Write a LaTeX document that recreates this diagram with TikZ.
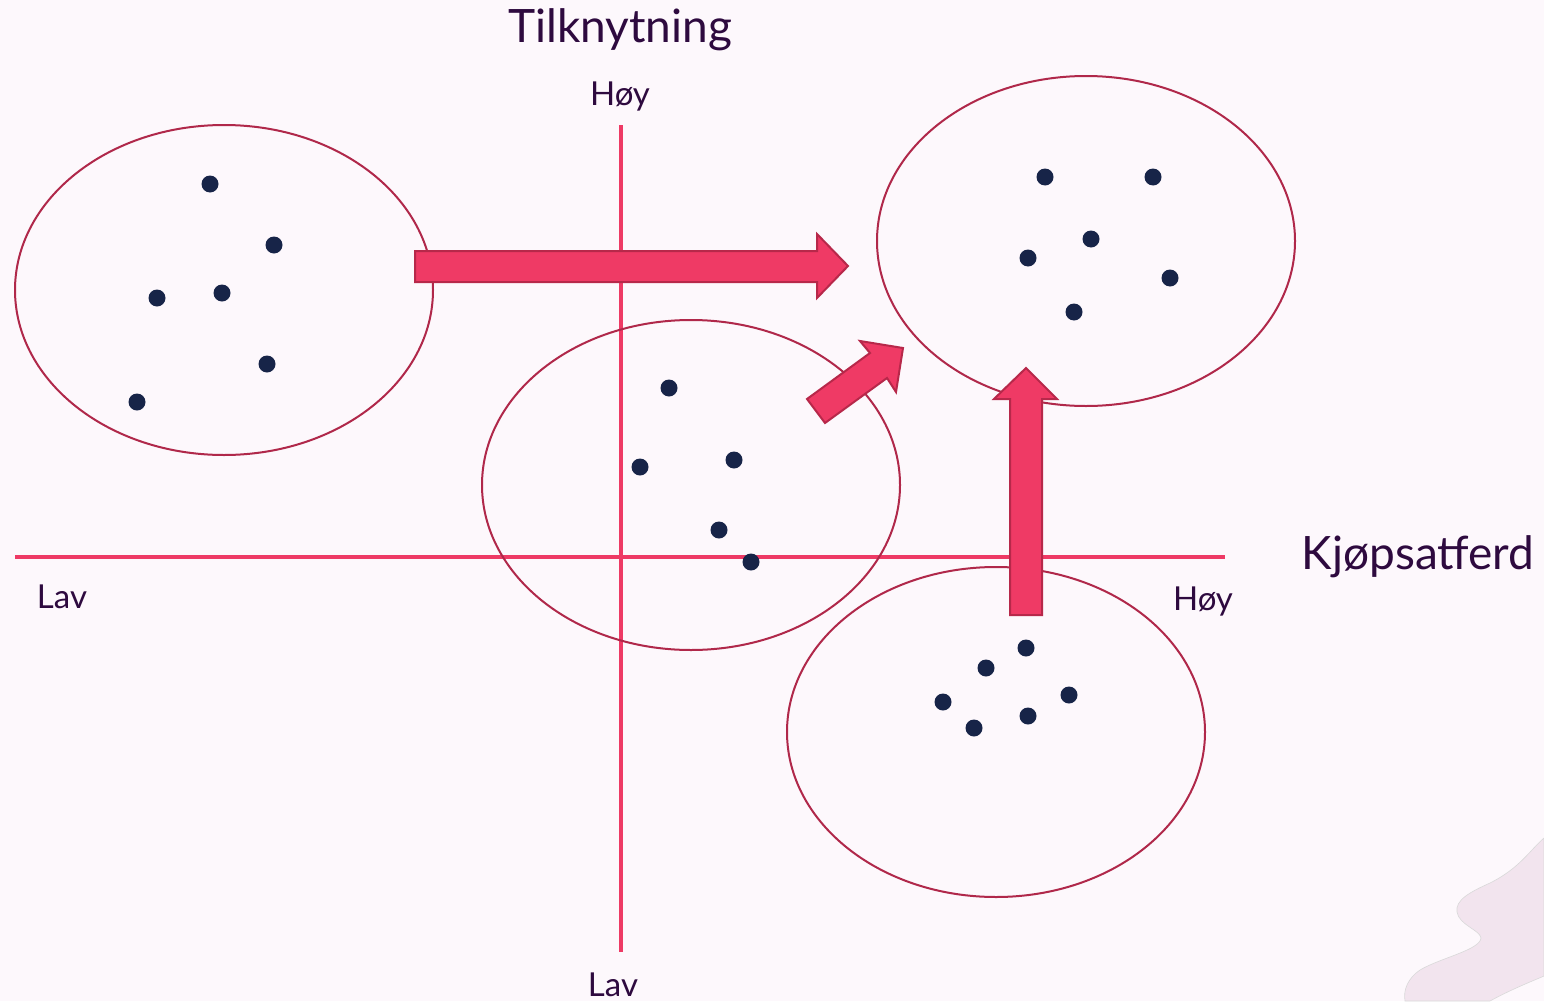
\documentclass[tikz,border=0pt]{standalone}
\usepackage{fontspec}
\setmainfont{Lato}
\definecolor{bg}{HTML}{FDF8FC}
\definecolor{blob}{HTML}{F2E4EE}
\definecolor{axis}{HTML}{EE3A65}
\definecolor{ring}{HTML}{B0284A}
\definecolor{dotc}{HTML}{172448}
\definecolor{arrowfill}{HTML}{EF3A65}
\definecolor{arrowline}{HTML}{B7284A}
\definecolor{ink}{HTML}{2E0A3F}
\begin{document}
\begin{tikzpicture}[x=1pt,y=-1pt,
  axisline/.style={draw=axis,line width=3.2pt},
  cluster/.style={draw=ring,line width=2pt},
  pt/.style={fill=dotc},
  blockarrow/.style={fill=arrowfill,draw=arrowline,line width=2pt,line join=miter},
  title/.style={text=ink,font=\fontsize{46}{54}\selectfont,inner sep=0pt},
  tick/.style={text=ink,font=\fontsize{33}{40}\selectfont,inner sep=0pt}]
  % canvas
  \fill[bg] (0,0) rectangle (1544,1001);
  \useasboundingbox (0,0) rectangle (1544,1001);
  % decorative corner shape
  \fill[blob,draw=black!15,line width=0.6pt]
    (1544,838) .. controls (1530,850) and (1520,868) .. (1490,883)
    .. controls (1470,892) and (1455,900) .. (1457,912)
    .. controls (1459,925) and (1480,930) .. (1481,938)
    .. controls (1480,950) and (1440,958) .. (1420,970)
    .. controls (1408,978) and (1403,990) .. (1405,1001)
    -- (1490,1001) .. controls (1510,990) and (1530,982) .. (1544,976) -- cycle;
  % axes
  \draw[axisline] (15,557) -- (1225,557);
  \draw[axisline] (621,125) -- (621,952);
  % axis labels
  \node[title] (ytitle) at (620,30) {Tilknytning};
  \node[title] (xtitle) at (1418,557) {Kjøpsatferd};
  \node[tick] (yhigh) at (620,97) {Høy};
  \node[tick] (ylow) at (613,985) {Lav};
  \node[tick] (xlow) at (62,597) {Lav};
  \node[tick] (xhigh) at (1203,601) {Høy};
  % clusters
  \draw[cluster] (224,290) ellipse [x radius=209,y radius=165];
  \draw[cluster] (691,485) ellipse [x radius=209,y radius=165];
  \draw[cluster] (1086,241) ellipse [x radius=209,y radius=165];
  \draw[cluster] (996,732) ellipse [x radius=209,y radius=165];
  % members
  \foreach \p in {(210,184),(274,245),(157,298),(222,293),(267,364),(137,402),
                  (669,388),(640,467),(734,460),(719,530),(751,562),
                  (1045,177),(1153,177),(1091,239),(1028,258),(1170,278),(1074,312),
                  (1026,648),(986,668),(943,702),(1069,695),(974,728),(1028,716)}
    \fill[pt] \p circle (8.5);
  % movement arrows
  \draw[blockarrow] (415,251) -- (817,251) -- (817,234) -- (848,266) -- (817,298)
    -- (817,282) -- (415,282) -- cycle;
  \draw[blockarrow] (1010,615) -- (1010,399) -- (994,399) -- (1026,368) -- (1057,399)
    -- (1042,399) -- (1042,615) -- cycle;
  \draw[blockarrow] (807,399) -- (870,353) -- (860,341) -- (903,348) -- (896,392)
    -- (887,378) -- (825,423) -- cycle;
\end{tikzpicture}
\end{document}
